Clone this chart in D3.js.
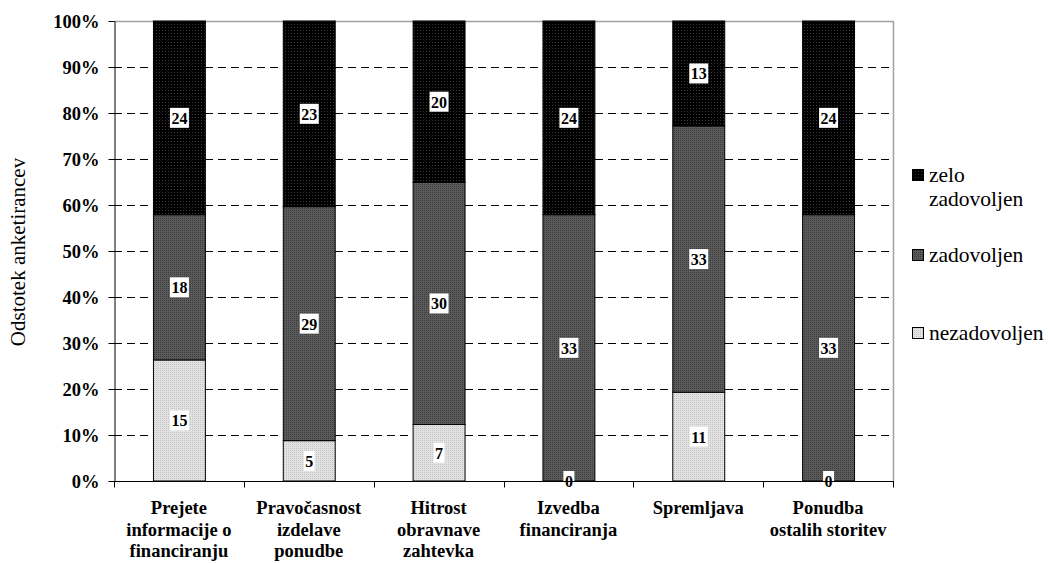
<!DOCTYPE html>
<html>
<head>
<meta charset="utf-8">
<script src="https://cdn.jsdelivr.net/npm/d3@7"></script>
</head>
<body style="margin:0;background:#fff">
<svg id="chart" width="1048" height="563" style="display:block"></svg>
<script>
// Survey satisfaction by service aspect (counts of respondents)
const categories = [
  ["Prejete", "informacije o", "financiranju"],
  ["Pravočasnost", "izdelave", "ponudbe"],
  ["Hitrost", "obravnave", "zahtevka"],
  ["Izvedba", "financiranja"],
  ["Spremljava"],
  ["Ponudba", "ostalih storitev"]
];
const seriesNames = ["nezadovoljen", "zadovoljen", "zelo zadovoljen"];
const nezadovoljen   = [15, 5, 7, 0, 11, 0];
const zadovoljen     = [18, 29, 30, 33, 33, 33];
const zeloZadovoljen = [24, 23, 20, 24, 13, 24];
const yTicks = [0, 0.1, 0.2, 0.3, 0.4, 0.5, 0.6, 0.7, 0.8, 0.9, 1.0];

const FONT = "'Liberation Serif'";
const svg = d3.select("#chart");
const margin = { left: 114, top: 21, right: 155, bottom: 82 };
const W = 1048, H = 563;
const x0 = margin.left, x1 = W - margin.right, y0 = H - margin.bottom, y1 = margin.top;

const x = d3.scaleBand().domain(d3.range(categories.length)).range([x0, x1]).paddingInner(0.6).paddingOuter(0.3);
const xb = d3.scaleBand().domain(d3.range(categories.length)).range([x0, x1]);
const y = d3.scaleLinear().domain([0, 1]).range([y0, y1]);

// fill patterns
const defs = svg.append("defs");
function dotPattern(id, bg, dot, size, r) {
  const p = defs.append("pattern").attr("id", id).attr("patternUnits", "userSpaceOnUse")
    .attr("width", size).attr("height", size);
  p.append("rect").attr("width", size).attr("height", size).attr("fill", bg);
  p.append("rect").attr("x", 0).attr("y", 0).attr("width", r).attr("height", r).attr("fill", dot);
}
dotPattern("pBlack", "#000", "#3a3a3a", 3, 1);
dotPattern("pDark", "#5a5a5a", "#3c3c3c", 2, 1);
dotPattern("pLight", "#e2e2e2", "#c4c4c4", 2, 1);
const fills = ["url(#pLight)", "url(#pDark)", "url(#pBlack)"];

// gridlines
svg.append("g").selectAll("line").data(yTicks.filter(t => t > 0 && t < 1)).join("line")
  .attr("x1", x0).attr("x2", x1)
  .attr("y1", d => Math.round(y(d)) + 0.5).attr("y2", d => Math.round(y(d)) + 0.5)
  .attr("stroke", "#000").attr("stroke-width", 1).attr("stroke-dasharray", "8,5");

// plot frame (top and right)
svg.append("line").attr("x1", x0).attr("x2", x1 + 0.5).attr("y1", y1 + 0.5).attr("y2", y1 + 0.5)
  .attr("stroke", "#a0a0a0").attr("stroke-width", 1.5);
svg.append("line").attr("x1", x1 + 0.5).attr("x2", x1 + 0.5).attr("y1", y1).attr("y2", y0)
  .attr("stroke", "#a0a0a0").attr("stroke-width", 1.5);

// stacked data normalised to 100%
const rows = categories.map((c, i) => ({ i, nezadovoljen: nezadovoljen[i], zadovoljen: zadovoljen[i], "zelo zadovoljen": zeloZadovoljen[i] }));
const stack = d3.stack().keys(seriesNames).offset(d3.stackOffsetExpand);
const layers = stack(rows);

const gBars = svg.append("g");
layers.forEach((layer, li) => {
  gBars.append("g").selectAll("rect").data(layer).join("rect")
    .attr("x", d => x(d.data.i) + 0.5)
    .attr("width", x.bandwidth())
    .attr("y", d => y(d[1]))
    .attr("height", d => y(d[0]) - y(d[1]))
    .attr("fill", fills[li])
    .attr("stroke", "#000").attr("stroke-width", 1);
});

// value labels with white boxes
const gLab = svg.append("g");
layers.forEach((layer, li) => {
  layer.forEach(d => {
    const v = d.data[seriesNames[li]];
    const cx = x(d.data.i) + x.bandwidth() / 2 + 0.5;
    const cy = (y(d[0]) + y(d[1])) / 2;
    const t = gLab.append("text").attr("x", cx).attr("y", cy + 6).attr("text-anchor", "middle")
      .style("font-family", FONT).style("font-weight", "bold").style("font-size", "16px").text(v);
    const bb = t.node().getBBox();
    gLab.insert("rect", () => t.node())
      .attr("x", bb.x - 1.5).attr("y", cy - 10).attr("width", bb.width + 3).attr("height", 20)
      .attr("fill", "#fff");
  });
});

// y axis
const yAxis = svg.append("g").attr("transform", `translate(${x0 + 0.5},0)`)
  .call(d3.axisLeft(y).tickValues(yTicks).tickFormat(d3.format(".0%")).tickSize(6).tickSizeOuter(0));
yAxis.attr("font-family", null).attr("font-size", null);
yAxis.select(".domain").attr("stroke", "#000");
yAxis.selectAll(".tick line").attr("stroke", "#000");
yAxis.selectAll("text").style("font-family", FONT).style("font-weight", "bold")
  .style("font-size", "18.5px").attr("fill", "#000").attr("x", -15).attr("dy", "0.34em");

// x axis
const xAxisG = svg.append("g").attr("transform", `translate(0,${y0 + 0.5})`);
xAxisG.append("line").attr("x1", x0).attr("x2", x1 + 1).attr("stroke", "#000");
xAxisG.selectAll(".tk").data(d3.range(categories.length + 1)).join("line")
  .attr("x1", i => Math.round(x0 + xb.step() * i) + 0.5).attr("x2", i => Math.round(x0 + xb.step() * i) + 0.5)
  .attr("y1", 0).attr("y2", 6).attr("stroke", "#000");
categories.forEach((lines, i) => {
  const t = xAxisG.append("text").attr("text-anchor", "middle")
    .style("font-family", FONT).style("font-weight", "bold").style("font-size", "18.5px")
    .attr("x", xb(i) + xb.bandwidth() / 2).attr("y", 32.5);
  lines.forEach((ln, k) => t.append("tspan").attr("x", xb(i) + xb.bandwidth() / 2).attr("dy", k === 0 ? 0 : 21.5).text(ln));
});

// y title
svg.append("text").attr("transform", `translate(25,${(y0 + y1) / 2 + 1}) rotate(-90)`)
  .attr("text-anchor", "middle").style("font-family", FONT).style("font-size", "21px")
  .text("Odstotek anketirancev");

// legend
const legend = [
  { name: ["zelo", "zadovoljen"], fill: fills[2], y: 175 },
  { name: ["zadovoljen"], fill: fills[1], y: 255 },
  { name: ["nezadovoljen"], fill: fills[0], y: 333 }
];
const lg = svg.append("g");
legend.forEach(l => {
  lg.append("rect").attr("x", 912.5).attr("y", l.y - 5.5).attr("width", 11).attr("height", 11)
    .attr("fill", l.fill).attr("stroke", "#000").attr("stroke-width", 1);
  const t = lg.append("text").attr("x", 929).attr("y", l.y + 7)
    .style("font-family", FONT).style("font-size", "21.5px");
  l.name.forEach((n, k) => t.append("tspan").attr("x", 929).attr("dy", k === 0 ? 0 : 24).text(n));
});
</script>
</body>
</html>
